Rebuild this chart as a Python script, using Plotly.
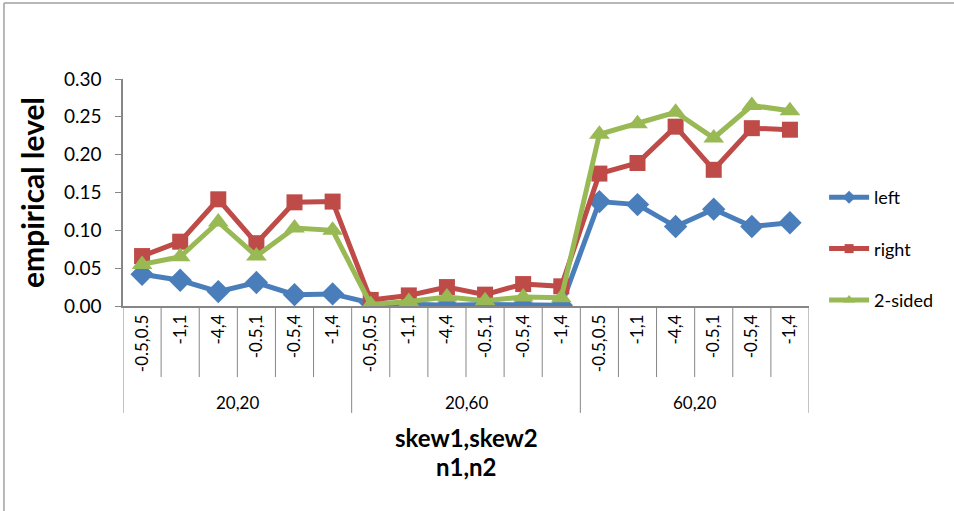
import plotly.graph_objects as go

# Category structure: inner level (skew1,skew2) within outer level (n1,n2)
groups = ["20,20", "20,60", "60,20"]
skews = ["-0.5,0.5", "-1,1", "-4,4", "-0.5,1", "-0.5,4", "-1,4"]

# Empirical levels for each test direction
left = [0.042, 0.034, 0.019, 0.031, 0.015, 0.016,
        0.004, 0.002, 0.001, 0.002, 0.001, 0.001,
        0.138, 0.134, 0.105, 0.128, 0.105, 0.110]
right = [0.066, 0.085, 0.141, 0.083, 0.137, 0.138,
         0.008, 0.014, 0.025, 0.015, 0.029, 0.026,
         0.175, 0.189, 0.237, 0.180, 0.235, 0.233]
two_sided = [0.055, 0.065, 0.111, 0.066, 0.103, 0.100,
             0.002, 0.006, 0.012, 0.007, 0.012, 0.011,
             0.227, 0.241, 0.256, 0.222, 0.265, 0.258]

n_cat = len(groups) * len(skews)
xs = list(range(n_cat))
tick_text = skews * len(groups)

FONT = "Lato, 'Open Sans', sans-serif"
AXIS_COL = "#868686"

series = [
    ("left", left, "#4A7EBB", "diamond", 18, 10),
    ("right", right, "#BE4B48", "square", 16, 9),
    ("2-sided", two_sided, "#98B954", "triangle-up", 18, 10),
]

fig = go.Figure()
for i, (name, vals, col, sym, sz, lsz) in enumerate(series):
    fig.add_trace(go.Scatter(
        x=xs, y=vals, name=name, mode="lines+markers",
        line=dict(color=col, width=5),
        marker=dict(symbol=sym, size=sz, color=col),
        showlegend=False,
    ))
    # Legend entry with a smaller marker sample
    fig.add_trace(go.Scatter(
        x=[None], y=[None], name=name, mode="lines+markers",
        line=dict(color=col, width=5),
        marker=dict(symbol=sym, size=lsz, color=col),
        legendgroup=f"g{i}", hoverinfo="skip",
    ))

shapes = []
# Separators between inner categories
for b in range(n_cat + 1):
    is_group = b % len(skews) == 0
    shapes.append(dict(type="line", xref="x", yref="paper",
                       x0=b - 0.5, x1=b - 0.5, y0=0,
                       y1=-0.471 if is_group else -0.313,
                       line=dict(color=AXIS_COL, width=1)))
# Outer frame (left and top edges)
shapes.append(dict(type="line", xref="paper", yref="paper",
                   x0=-0.1735, x1=-0.1735, y0=-0.95, y1=1.335,
                   line=dict(color="#A0A0A0", width=1.5)))
shapes.append(dict(type="line", xref="paper", yref="paper",
                   x0=-0.1735, x1=1.3, y0=1.335, y1=1.335,
                   line=dict(color="#A0A0A0", width=1.5)))

annotations = []
for g, label in enumerate(groups):
    center = g * len(skews) + (len(skews) - 1) / 2
    annotations.append(dict(x=center, y=-0.423, xref="x", yref="paper",
                            yanchor="middle", text=label, showarrow=False,
                            font=dict(family=FONT, size=17, color="#000")))
annotations.append(dict(x=0.5, y=-0.581, xref="paper", yref="paper",
                        yanchor="middle", text="<b>skew1,skew2</b>",
                        showarrow=False,
                        font=dict(family=FONT, size=24, color="#000")))
annotations.append(dict(x=0.5, y=-0.709, xref="paper", yref="paper",
                        yanchor="middle", text="<b>n1,n2</b>",
                        showarrow=False,
                        font=dict(family=FONT, size=24, color="#000")))

fig.update_layout(
    width=954, height=511,
    margin=dict(l=123, r=145, t=79, b=205),
    paper_bgcolor="white", plot_bgcolor="white",
    font=dict(family=FONT, size=18, color="#000"),
    shapes=shapes, annotations=annotations,
    legend=dict(x=1.022, y=0.251, xanchor="left", yanchor="middle",
                font=dict(family=FONT, size=18), tracegroupgap=25,
                itemwidth=40, bgcolor="rgba(0,0,0,0)"),
    xaxis=dict(range=[-0.5, n_cat - 0.5], tickmode="array",
               tickvals=xs, ticktext=tick_text, tickangle=-90,
               ticks="", showgrid=False, zeroline=False,
               showline=True, linecolor=AXIS_COL, linewidth=1.5,
               tickfont=dict(family=FONT, size=17)),
    yaxis=dict(range=[0, 0.30], dtick=0.05, tickformat=".2f",
               ticks="outside", ticklen=6, tickcolor=AXIS_COL,
               ticklabelstandoff=10,
               showgrid=False, zeroline=False,
               showline=True, linecolor=AXIS_COL, linewidth=1.5,
               tickfont=dict(family=FONT, size=19),
               title=dict(text="<b>empirical level</b>", standoff=10,
                          font=dict(family=FONT, size=30))),
)

fig.write_html("out.html")
